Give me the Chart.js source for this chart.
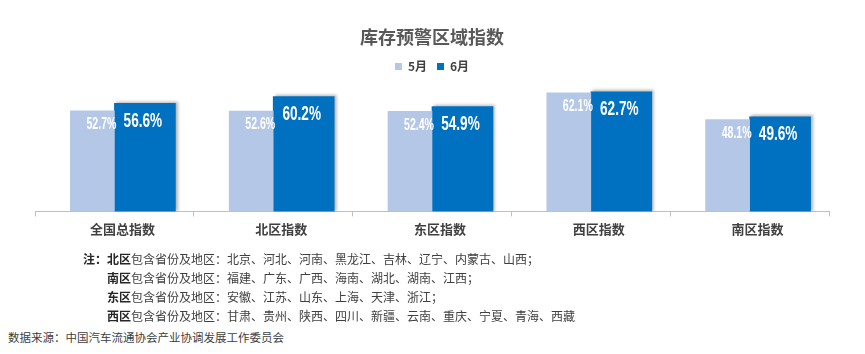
<!DOCTYPE html>
<html>
<head>
<meta charset="utf-8">
<script src="https://cdn.jsdelivr.net/npm/chart.js@4.4.1/dist/chart.umd.min.js"></script>
<style>
  body { margin: 0; background: #fff; width: 865px; height: 354px; overflow: hidden; position: relative; }
  #wrap { position: absolute; left: 0; top: 0; width: 865px; height: 250px; }
  .note { position: absolute; font-family: "Noto Sans CJK SC", sans-serif; font-size: 12px; color: #404040; white-space: nowrap; line-height: 19px; }
  .note b { color: #262626; }
  #src { position: absolute; left: 8px; top: 329px; font-family: "Noto Sans CJK SC", sans-serif; font-size: 11.5px; color: #404040; white-space: nowrap; }
</style>
</head>
<body>
<div id="wrap"><canvas id="c" width="865" height="250"></canvas></div>

<div class="note" style="left:83px; top:249px"><b>注：北区</b>包含省份及地区：北京、河北、河南、黑龙江、吉林、辽宁、内蒙古、山西；</div>
<div class="note" style="left:107px; top:268px"><b>南区</b>包含省份及地区：福建、广东、广西、海南、湖北、湖南、江西；</div>
<div class="note" style="left:107px; top:287px"><b>东区</b>包含省份及地区：安徽、江苏、山东、上海、天津、浙江；</div>
<div class="note" style="left:107px; top:306px"><b>西区</b>包含省份及地区：甘肃、贵州、陕西、四川、新疆、云南、重庆、宁夏、青海、西藏</div>
<div id="src">数据来源：中国汽车流通协会产业协调发展工作委员会</div>

<script>
// 数据
const categories = ['全国总指数', '北区指数', '东区指数', '西区指数', '南区指数'];
const may = [52.7, 52.6, 52.4, 62.1, 48.1];
const june = [56.6, 60.2, 54.9, 62.7, 49.6];
const seriesNames = ['5月', '6月'];

const cjk = '"Noto Sans CJK SC", sans-serif';
const numFont = '"Liberation Sans", Arial, sans-serif';

// 柱子阴影 (只给6月)
const barShadow = {
    id: 'barShadow',
    beforeDatasetDraw(chart, args) {
        chart.ctx.save();
        if (args.index === 1) {
            chart.ctx.shadowColor = 'rgba(0,0,0,0.3)';
            chart.ctx.shadowBlur = 3;
            chart.ctx.shadowOffsetX = 2;
            chart.ctx.shadowOffsetY = -1;
        }
    },
    afterDatasetDraw(chart) {
        chart.ctx.restore();
    }
};

// 柱内数值标签 (横向压缩成窄体)
function narrowText(ctx, txt, x, y, size, align, squeeze) {
    ctx.save();
    ctx.translate(x, y);
    ctx.scale(squeeze, 1);
    ctx.font = 'bold ' + size + 'px ' + numFont;
    ctx.textAlign = align;
    ctx.textBaseline = 'middle';
    ctx.fillStyle = '#ffffff';
    ctx.fillText(txt, 0, 0);
    ctx.restore();
}

const barLabels = {
    id: 'barLabels',
    afterDatasetsDraw(chart) {
        const ctx = chart.ctx;
        chart.data.datasets.forEach((ds, i) => {
            const meta = chart.getDatasetMeta(i);
            meta.data.forEach((bar, j) => {
                const txt = ds.data[j].toFixed(1) + '%';
                if (i === 0) {
                    narrowText(ctx, txt, bar.x + bar.width / 2 + 2, bar.y + 14, 16, 'right', 0.66);
                } else {
                    narrowText(ctx, txt, bar.x - 2, bar.y + 18, 20, 'center', 0.68);
                }
            });
        });
    }
};

const chart = new Chart(document.getElementById('c'), {
    type: 'bar',
    data: {
        labels: categories,
        datasets: [
            { label: seriesNames[0], data: may, backgroundColor: '#B4C7E7', barThickness: 44 },
            { label: seriesNames[1], data: june, backgroundColor: '#0070C0', barThickness: 61 }
        ]
    },
    options: {
        responsive: false,
        animation: false,
        layout: { padding: { left: 35, right: 36, top: 0, bottom: 8 } },
        plugins: {
            title: {
                display: true,
                text: '库存预警区域指数',
                color: '#595959',
                font: { family: cjk, size: 18, weight: 'bold' },
                padding: { top: 26, bottom: 3 }
            },
            legend: {
                display: true,
                labels: {
                    boxWidth: 7,
                    boxHeight: 7,
                    padding: 10,
                    color: '#404040',
                    font: { family: cjk, size: 12, weight: 'bold' }
                }
            },
            tooltip: { enabled: false }
        },
        scales: {
            x: {
                grid: { display: true, drawOnChartArea: false, drawTicks: true, tickLength: 5, offset: true, color: '#BFBFBF' },
                border: { display: true, color: '#BFBFBF' },
                ticks: {
                    color: '#404040',
                    labelOffset: 8,
                    padding: 5,
                    font: { family: cjk, size: 13, weight: 'bold' }
                }
            },
            y: {
                display: false,
                min: 0,
                max: 67.5
            }
        }
    },
    plugins: [barShadow, barLabels]
});
</script>
</body>
</html>
